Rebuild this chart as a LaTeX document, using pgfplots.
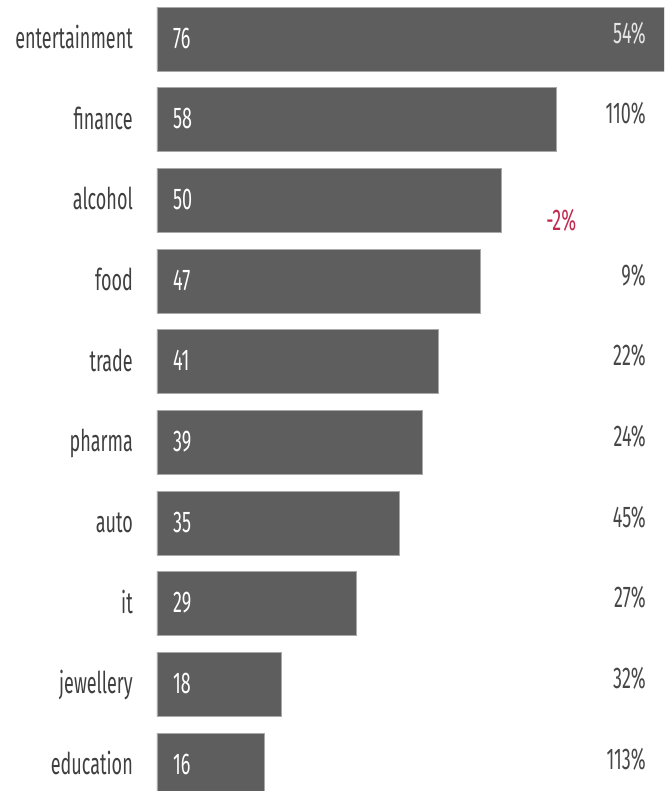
\documentclass[border=0pt]{standalone}
\usepackage{fontspec}
\setmainfont[FakeStretch=0.6]{Fira Sans}
\usepackage{pgfplots}
\pgfplotsset{compat=1.18}
\usepackage{pgfplotstable}
\definecolor{barfill}{HTML}{5E5E5E}
\definecolor{barborder}{HTML}{A8A8A8}
\definecolor{labelgray}{HTML}{3F3F3F}
\definecolor{pctgray}{HTML}{474747}
\definecolor{negred}{HTML}{C02A50}
\pgfplotstableread{
pos len zero val
0 76.0 0 76
1 59.9 0 58
2 51.7 0 50
3 48.5 0 47
4 42.2 0 41
5 39.8 0 39
6 36.4 0 35
7 29.9 0 29
8 18.7 0 18
9 16.1 0 16
}\data
\newcommand{\bigfont}{\fontsize{30}{34}\selectfont}
\begin{document}
\begin{tikzpicture}
\begin{axis}[
  scale only axis,
  width=507pt, height=791pt,
  xmin=0, xmax=76,
  ymin=-0.4835, ymax=9.322,
  y dir=reverse,
  axis line style={draw=none},
  major tick length=0pt,
  xtick=\empty,
  ytick={0,...,9},
  yticklabels={entertainment,finance,alcohol,food,trade,pharma,auto,it,jewellery,education},
  yticklabel style={anchor=base east, inner sep=0pt, xshift=-24pt, yshift=-9.5pt, text=labelgray, font=\bigfont},
  clip=true,
]
\addplot[xbar, fill=barfill, draw=barborder, line width=0.8pt, bar width=0.7934, bar shift=0pt] table[x=len, y=pos]{\data};
\addplot[draw=none, nodes near coords, point meta=explicit symbolic,
  nodes near coords style={anchor=base west, inner sep=0pt, xshift=16pt, yshift=-9pt, text=white, font=\bigfont}]
  table[x=zero, y=pos, meta=val]{\data};
% percentages, dark
\addplot[draw=none, nodes near coords={\pgfplotspointmeta\%}, point meta=explicit symbolic,
  nodes near coords style={anchor=base east, inner sep=0pt, yshift=-4pt, text=pctgray, font=\bigfont}]
  coordinates {(73.3,1) [110] (73.3,3) [9] (73.3,4) [22] (73.3,5) [24] (73.3,6) [45] (73.3,7) [27] (73.3,8) [32] (73.3,9) [113]};
% percentage on bar, light
\addplot[draw=none, nodes near coords={\pgfplotspointmeta\%}, point meta=explicit symbolic,
  nodes near coords style={anchor=base east, inner sep=0pt, yshift=-4pt, text=white!90!black, font=\bigfont}]
  coordinates {(73.3,0) [54]};
% negative change
\addplot[draw=none, nodes near coords={\pgfplotspointmeta\%}, point meta=explicit symbolic,
  nodes near coords style={anchor=base, inner sep=0pt, yshift=-29.7pt, text=negred, font=\bigfont}]
  coordinates {(60.6,2) [-2]};
\end{axis}
\path (current axis.south west) -- ++(-157pt,0pt);
\end{tikzpicture}
\end{document}
